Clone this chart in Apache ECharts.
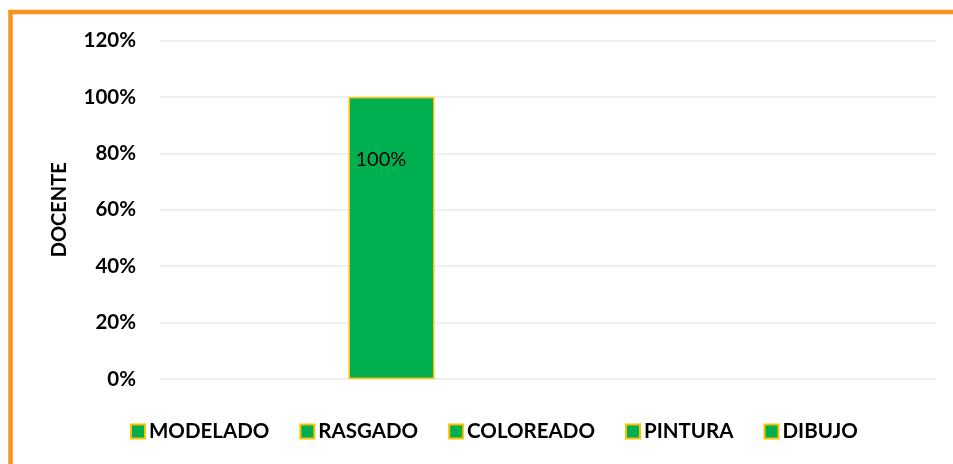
<!DOCTYPE html>
<html>
<head>
<meta charset="utf-8">
<script src="https://cdn.jsdelivr.net/npm/echarts@6/dist/echarts.min.js"></script>
<style>
html, body { margin: 0; padding: 0; background: #fff; }
#chart { width: 953px; height: 464px; }
</style>
</head>
<body>
<div id="chart"></div>
<script>
// datos
var categorias = ["DOCENTE"];
var nombresSeries = ["MODELADO", "RASGADO", "COLOREADO", "PINTURA", "DIBUJO"];
var modelado = [1.0];
var rasgado = [0];
var coloreado = [0];
var pintura = [0];
var dibujo = [0];
var ticksY = [0, 0.2, 0.4, 0.6, 0.8, 1.0, 1.2];

var valores = [modelado, rasgado, coloreado, pintura, dibujo];

var myChart = echarts.init(document.getElementById("chart"));

var fuente = "Lato, 'Open Sans', sans-serif";

var series = nombresSeries.map(function (nombre, i) {
	return {
		name: nombre,
		type: "bar",
		barWidth: 86,
		barGap: "-9%",
		itemStyle: {
			color: "#00B050",
			borderColor: "#FFC000",
			borderWidth: 1.5
		},
		label: {
			show: true,
			position: [7, 63],
			align: "left",
			verticalAlign: "middle",
			color: "#000",
			fontSize: 20,
			fontFamily: fuente,
			formatter: function (p) {
				return p.value > 0 ? Math.round(p.value * 100) + "%" : "";
			}
		},
		data: valores[i].map(function (v) {
			// barras en cero no se dibujan
			return v > 0 ? v : null;
		})
	};
});

var option = {
	backgroundColor: "#fff",
	animation: false,
	graphic: [
		{
			type: "rect",
			shape: { x: 10.5, y: 12, width: 1000, height: 500 },
			style: { fill: "none", stroke: "#F7941E", lineWidth: 4.5 },
			silent: true
		}
	],
	grid: {
		left: 160,
		right: 17,
		top: 40.5,
		bottom: 85
	},
	legend: {
		data: nombresSeries,
		left: 130,
		top: 421,
		padding: 0,
		itemWidth: 14,
		itemHeight: 14,
		itemGap: 30,
		icon: "rect",
		itemStyle: {
			color: "#00B050",
			borderColor: "#FFC000",
			borderWidth: 2
		},
		textStyle: {
			color: "#000",
			fontSize: 20.5,
			fontWeight: "bold",
			fontFamily: fuente,
			padding: [0, 0, 0, -1]
		}
	},
	xAxis: {
		type: "category",
		data: categorias,
		axisLine: { show: false },
		axisTick: { show: false },
		axisLabel: { show: false }
	},
	yAxis: {
		type: "value",
		min: ticksY[0],
		max: ticksY[ticksY.length - 1],
		interval: 0.2,
		name: "DOCENTE",
		nameLocation: "middle",
		nameGap: 90,
		nameRotate: 90,
		nameTextStyle: {
			color: "#000",
			fontSize: 20,
			fontWeight: "bold",
			fontFamily: fuente
		},
		axisLine: { show: false },
		axisTick: { show: false },
		axisLabel: {
			margin: 24,
			color: "#000",
			fontSize: 20.5,
			fontWeight: "bold",
			fontFamily: fuente,
			formatter: function (v) {
				return Math.round(v * 100) + "%";
			}
		},
		splitLine: {
			lineStyle: { color: "#EBEBEB", width: 1.5 }
		}
	},
	series: series
};

myChart.setOption(option);
</script>
</body>
</html>
